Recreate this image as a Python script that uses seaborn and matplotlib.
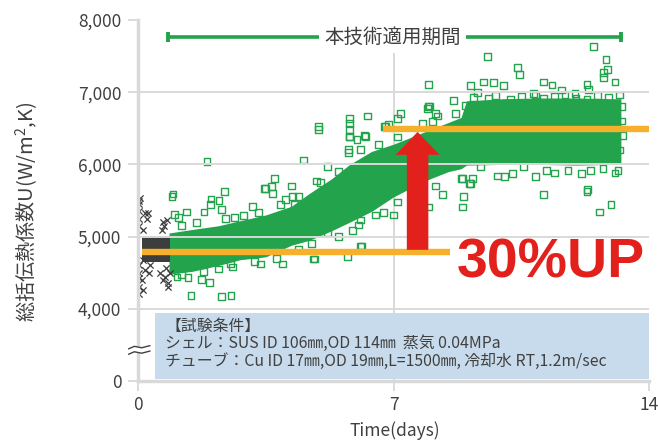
import matplotlib
matplotlib.use("Agg")
import matplotlib.pyplot as plt
import seaborn as sns
import pandas as pd
from matplotlib.patches import Rectangle

sns.set_theme(style="white")
plt.rcParams["font.family"] = ["Noto Sans CJK JP", "DejaVu Sans"]

# ---------------- data ----------------
# y axis: ticks shown; "0" sits one step below 4,000 (broken axis)
ytick_values = [0, 4000, 5000, 6000, 7000, 8000]
ytick_labels = ["0", "4,000", "5,000", "6,000", "7,000", "8,000"]
xtick_values = [0, 7, 14]
xtick_labels = ["0", "7", "14"]

# dense core of the green (after treatment) cloud: time, lower / upper edge
band_t = [0.85, 1.5, 2.2, 2.8, 3.5, 4.2, 4.7, 5.3, 5.8, 6.4, 7.0, 7.5, 8.0, 8.5, 8.85, 9.0,
          10.0, 11.0, 12.0, 13.0, 13.23]
band_lo = [4480, 4520, 4600, 4680, 4720, 4880, 4950, 5080, 5200, 5350, 5550, 5680, 5800, 5900,
           5940, 5990, 6000, 6000, 5990, 6000, 6000]
band_hi = [5050, 5100, 5150, 5220, 5300, 5420, 5600, 5800, 6000, 6180, 6280, 6380, 6480, 6580,
           6650, 6880, 6910, 6920, 6920, 6910, 6910]

# dense core of the grey (before treatment) cloud
grey_core_t = [0.1, 0.88]
grey_core_lo = [4650, 4650]
grey_core_hi = [5005, 5005]

# individual green squares outside / on the edge of the dense core
green_t = [1.89, 4.53, 0.96, 0.93, 2.36, 3.73, 3.46, 3.65, 3.68, 4.2, 4.23, 2.0, 1.98, 2.22, 1.32,
           0.99, 1.1, 1.81, 2.28, 2.64, 1.45, 2.28, 2.55, 1.95, 1.73, 1.37, 1.07, 2.2, 2.53, 3.35,
           3.95, 1.62, 4.28, 4.04, 4.83, 5.74, 6.12, 5.19, 3.49, 3.13, 5.79, 6.0, 6.23, 4.89,
           5.76, 4.94, 5.19, 4.75, 7.96, 4.94, 6.28, 5.8, 5.79, 5.8, 5.8, 6.2, 6.6, 6.1, 5.76,
           6.78, 7.1, 7.2, 6.86, 7.96, 8.15, 8.07, 8.65, 8.97, 8.15, 8.34, 8.92, 8.89, 7.1, 7.0,
           6.72, 6.1, 6.04, 5.87, 6.1, 4.8, 9.11, 7.99, 7.93, 8.2, 6.75, 7.8, 7.1, 8.7, 8.89,
           9.11, 8.87, 9.09, 11.12, 12.32, 12.65, 12.96, 7.96, 9.58, 10.4, 10.46, 12.49, 12.82,
           12.87, 12.76, 12.76, 13.07, 9.47, 9.75, 10.02, 11.12, 11.34, 11.6, 11.97, 12.3, 12.35,
           9.3, 10.84, 12.3, 9.16, 9.85, 10.05, 10.27, 10.57, 10.9, 11.2, 11.4, 11.78, 12.16,
           12.4, 12.74, 13.07, 13.15, 9.39, 9.2, 9.6, 9.8, 10.2, 10.5, 10.9, 11.1, 11.4, 11.7,
           12.0, 12.3, 12.6, 12.9, 13.2, 13.25, 13.25, 13.28, 13.2, 1.2, 1.6, 2.4, 2.9, 3.3, 3.9,
           4.4, 5.0, 5.5, 1.2, 1.8, 2.6, 3.2, 3.8, 4.4, 5.5, 6.5, 7.5]
green_v = [6035, 6060, 5590, 5560, 5630, 5800, 5670, 5690, 5600, 5700, 5560, 5520, 5450, 5500, 5340,
           5310, 5270, 5340, 5380, 5270, 4180, 4170, 4180, 4360, 4410, 4430, 4440, 4550, 4620, 4620,
           4620, 4610, 5450, 5510, 4690, 4720, 4870, 5970, 5670, 5420, 6390, 6350, 6390, 5770,
           6210, 6480, 5050, 4910, 7110, 6520, 6670, 6640, 6570, 6480, 6380, 6400, 6280, 6210, 6160,
           6520, 6640, 6710, 6550, 6800, 6700, 6590, 6880, 6820, 5700, 5580, 5550, 5410, 5480, 5300,
           5330, 5230, 5160, 5090, 4870, 4690, 7090, 6810, 6770, 6670, 6530, 6570, 6380, 6710, 5800,
           5740, 5810, 5730, 5580, 5650, 5340, 5450, 5410, 7490, 7340, 7240, 7630, 7450,
           7310, 7270, 7200, 7140, 7140, 7130, 7090, 7140, 7100, 7030, 6980, 7110, 7040,
           7000, 6980, 5630, 5800, 5840, 5830, 5870, 5970, 5830, 5910, 5880, 5910, 5870,
           5920, 5940, 5880, 5920, 5970, 6930, 6910, 6950, 6900, 6940, 6960, 6910, 6940, 6960,
           6920, 6900, 6950, 6930, 6960, 6800, 6600, 6400, 6200, 5150, 5200, 5250, 5290, 5330, 5450,
           5550, 5750, 5900, 4480, 4520, 4580, 4650, 4700, 4820, 5000, 5300, 5560]

# individual grey crosses (before treatment)
grey_t = [0.19, 0.14, 0.69, 0.66, 0.8, 0.14, 0.69, 0.82, 0.19, 0.33, 0.88, 0.14, 0.05, 0.27, 0.74,
          0.82, 0.6, 0.72, 0.25, 0.3, 0.78, 0.1, 0.02, 0.02, 0.02, 0.02, 0.02, 0.02, 0.02, 0.02,
          0.02, 0.02]
grey_v = [5330, 5090, 5200, 5090, 5230, 4260, 4400, 4300, 4540, 4600, 4500, 4680, 5540, 5330, 4440,
          4360, 4500, 5150, 5250, 4500, 4560, 4400, 5500, 5450, 5350, 5250, 5150, 4600, 4500, 4420,
          4300, 4200]

# average levels before / after (orange lines)
level_before = 4780
level_before_span = [0.1, 8.55]
level_after = 6490
level_after_span = [6.7, 14.0]

period_span = [0.82, 13.22]   # 本技術適用期間
period_label = "本技術適用期間"
gain_label = "30%UP"
cond_lines = ["【試験条件】",
              "シェル：SUS ID 106㎜,OD 114㎜  蒸気 0.04MPa",
              "チューブ：Cu ID 17㎜,OD 19㎜,L=1500㎜, 冷却水 RT,1.2m/sec"]

# ---------------- styling ----------------
GREEN = "#22a34c"
GREY = "#3d3d3d"
ORANGE = "#f6b02c"
RED = "#e3211c"
GRID = "#d9d9d9"
TXT = "#404040"
BREAK_POS = 3000  # where the "0" tick is drawn on the broken axis


def ypos(v):
    return v if v >= 4000 else BREAK_POS


fig = plt.figure(figsize=(6.58, 4.43), dpi=100)
ax = fig.add_axes([138 / 658, 62 / 443, 511 / 658, 361 / 443])
ax.set_xlim(0, 14)
ax.set_ylim(BREAK_POS, 8000)

# grid
for v in ytick_values[1:-1]:
    ax.axhline(v, color=GRID, lw=1.4, zorder=3)
ax.axvline(7, ymax=0.918, color=GRID, lw=1.4, zorder=0.5)

# dense cores
ax.fill_between(band_t, band_lo, band_hi, color=GREEN, lw=0, zorder=1)
ax.fill_between(grey_core_t, grey_core_lo, grey_core_hi, color=GREY, lw=0, zorder=1.2)

# individual points
gdf = pd.DataFrame({"t": green_t, "v": green_v})
sns.scatterplot(data=gdf, x="t", y="v", marker="s", s=24, facecolor="none",
                edgecolor=GREEN, linewidth=1.0, ax=ax, zorder=2)
kdf = pd.DataFrame({"t": grey_t, "v": grey_v})
sns.scatterplot(data=kdf, x="t", y="v", marker="x", s=20, color=GREY,
                linewidth=0.9, ax=ax, zorder=2.2)

# orange level lines
ax.hlines(level_before, *level_before_span, color=ORANGE, lw=4.6, zorder=4)
ax.hlines(level_after, *level_after_span, color=ORANGE, lw=4.6, zorder=4)

# red arrow
ax.annotate("", xy=(7.66, 6450), xytext=(7.66, 4817),
            arrowprops=dict(arrowstyle="simple,head_length=16.5,head_width=31.5,tail_width=15.5",
                            mutation_scale=1, color=RED, lw=0, shrinkA=0, shrinkB=0),
            zorder=4.5)
ax.text(8.73, 4429, gain_label, fontsize=40, fontweight="bold", family="Liberation Sans",
        color=RED, va="baseline", ha="left", zorder=6)

# period bracket
ax.plot(period_span, [7765, 7765], color=GREEN, lw=2.6, zorder=4, solid_capstyle="butt")
ax.vlines(period_span, 7695, 7835, color=GREEN, lw=2.8, zorder=4)
ax.text(6.97, 7765, period_label, fontsize=14, color=TXT, ha="center", va="center",
        zorder=5, bbox=dict(fc="white", ec="none", pad=4))

# conditions box
ax.add_patch(Rectangle((0.47, 3031), 13.53, 914, fc="#c8dbec", ec="none", zorder=5))
for yy, line in zip([3751, 3516, 3267], cond_lines):
    ax.text(0.74, yy, line, fontsize=11.4, color=TXT, ha="left", va="center", zorder=6)

# axes / ticks
sns.despine(ax=ax)
for s in ["left", "bottom"]:
    ax.spines[s].set_color(GRID)
    ax.spines[s].set_linewidth(2.5)
ax.set_yticks([ypos(v) for v in ytick_values])
ax.set_yticklabels(ytick_labels)
ax.set_xticks(xtick_values)
ax.set_xticklabels(xtick_labels)
ax.tick_params(axis="both", direction="out", length=7, width=1.3, color=GRID,
               labelcolor=TXT, labelsize=12.5, left=True, bottom=True)
ax.tick_params(axis="y", pad=5)
ax.tick_params(axis="x", pad=4)

ax.set_ylabel(r"総括伝熱係数U(W/m$\mathregular{^2}$,K)", fontsize=14.5, color=TXT)
ax.yaxis.set_label_coords(-0.19, 0.468)
ax.set_xlabel("Time(days)", fontsize=12.5, color=TXT)
ax.xaxis.set_label_coords(0.503, -0.112)

# axis break marks
ax.fill_between([-0.1, 0.1], 3385, 3475, color="white", lw=0, zorder=7, clip_on=False)
for yb in (3395, 3470):
    ax.plot([-0.26, -0.1, 0.1, 0.33], [yb - 25, yb + 10, yb - 10, yb + 20], color=TXT,
            lw=1.0, zorder=8, clip_on=False)

fig.savefig("out.png", dpi=100)
